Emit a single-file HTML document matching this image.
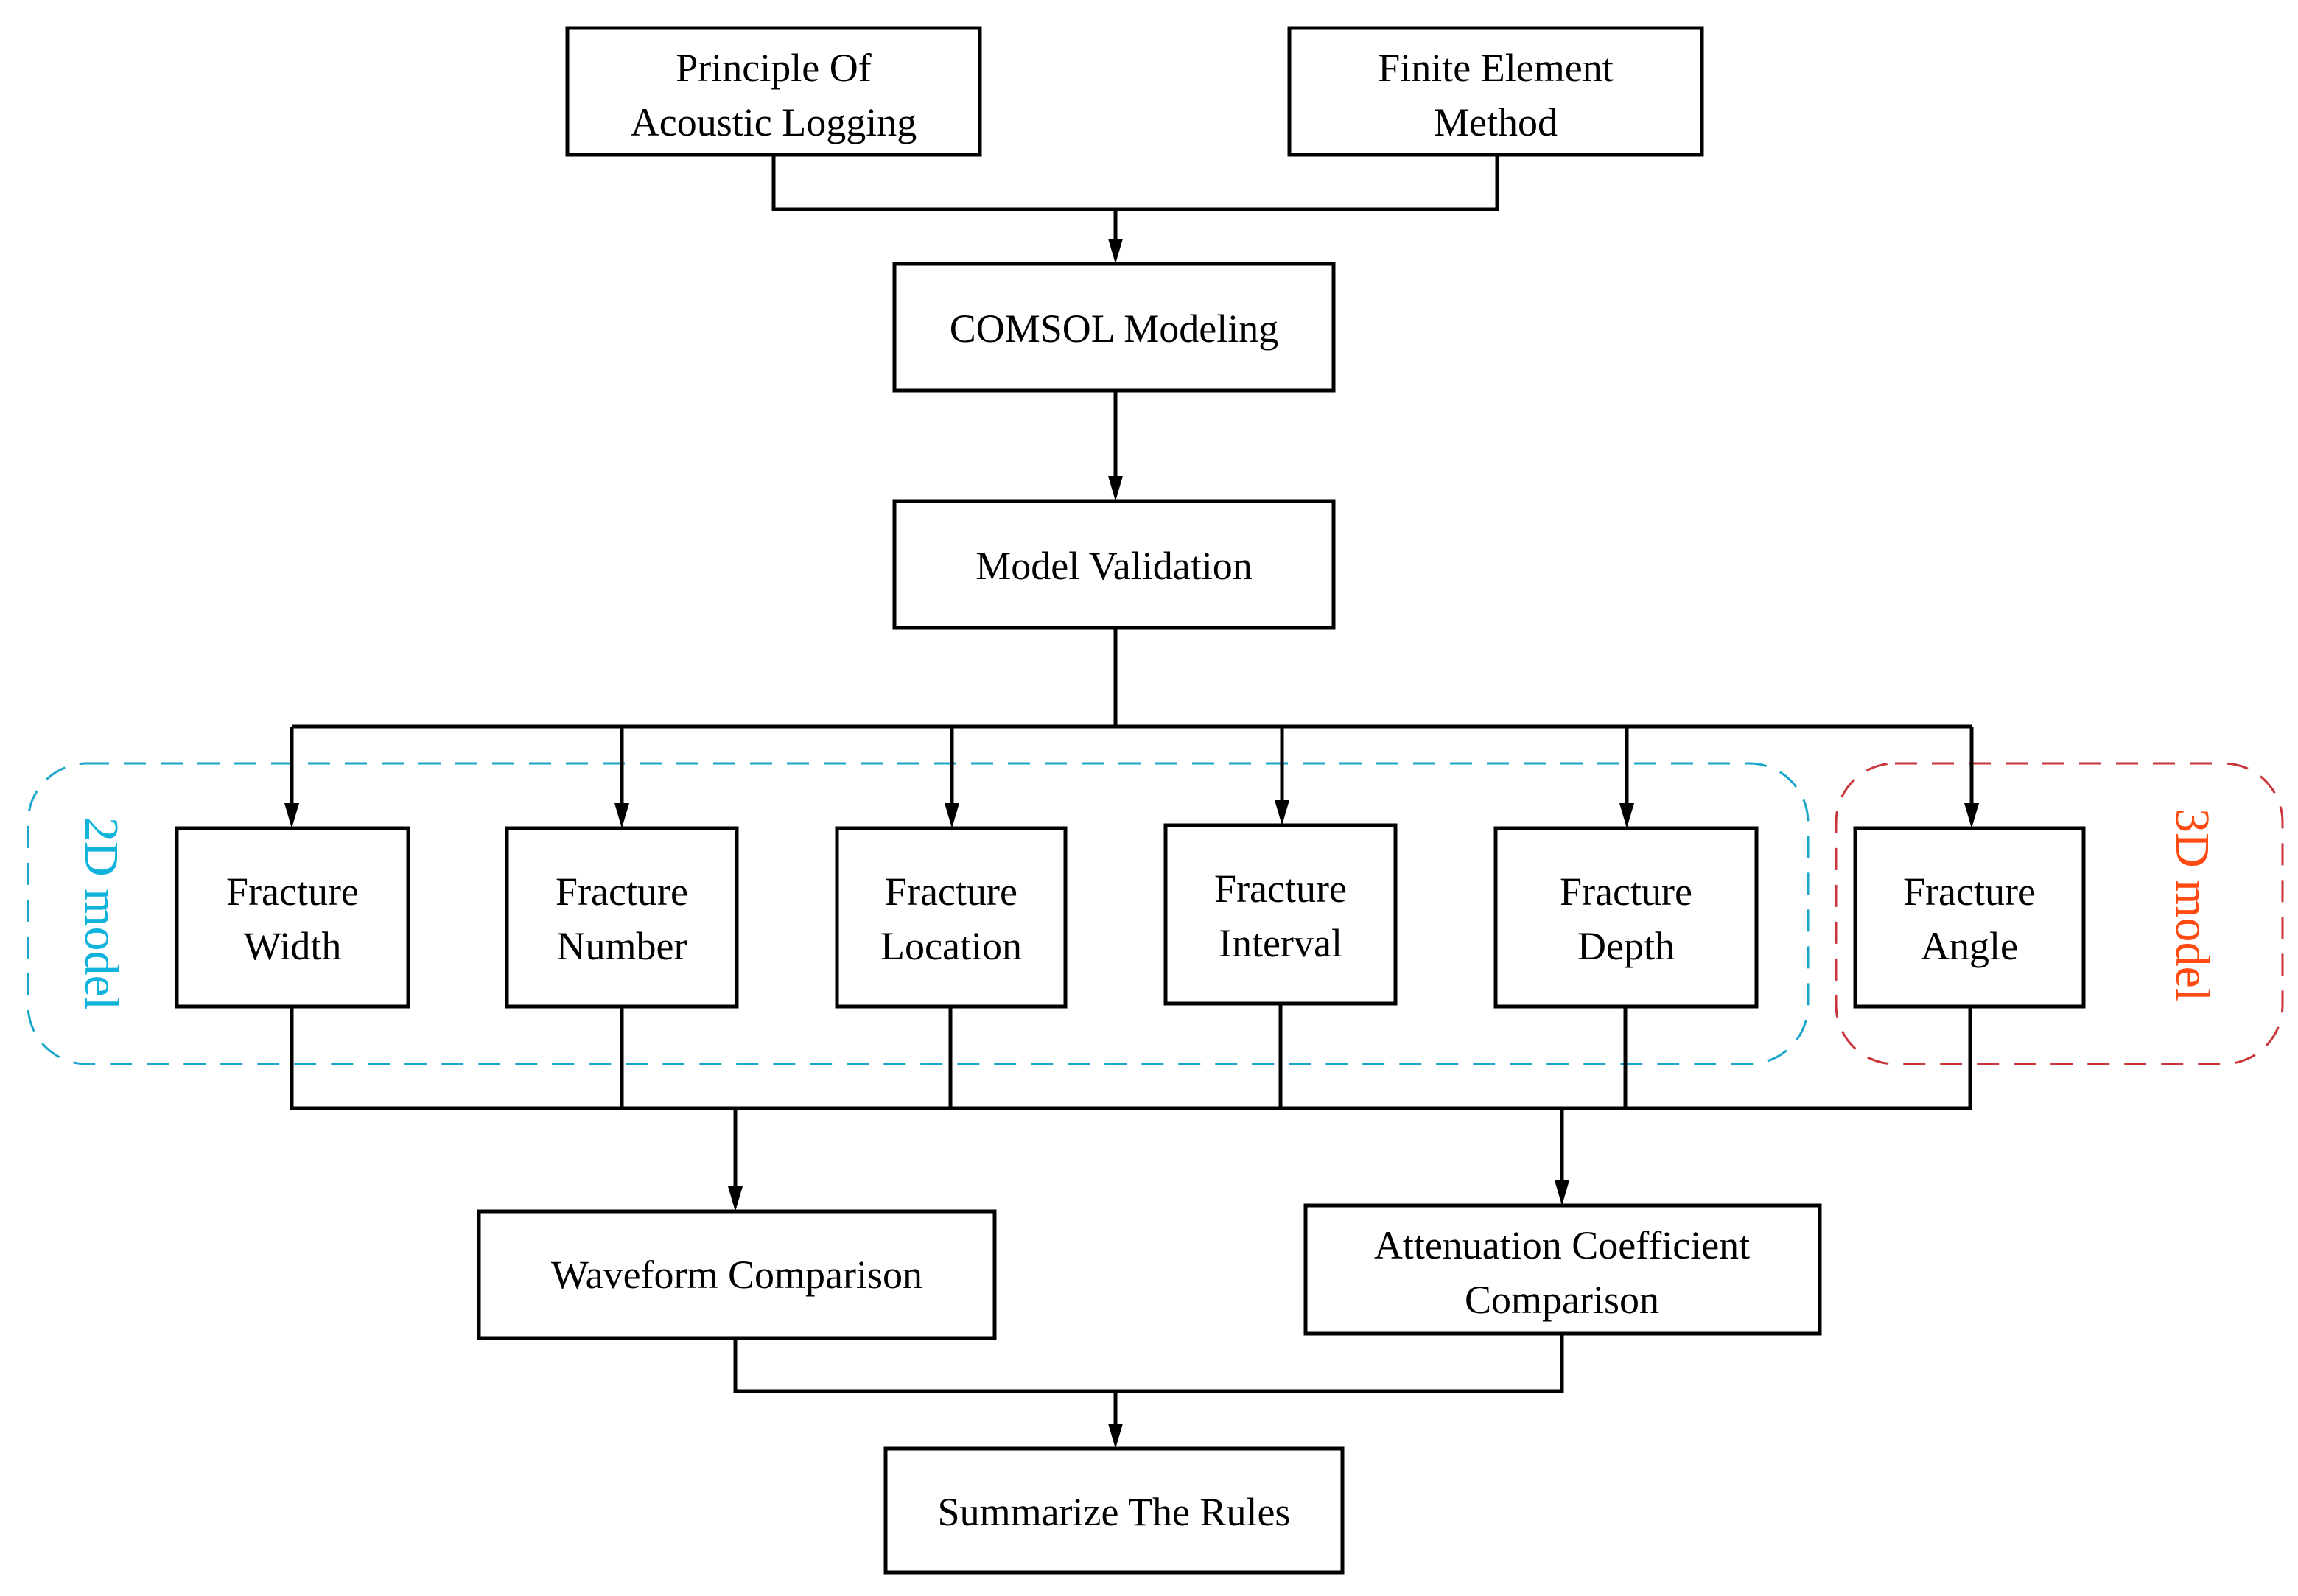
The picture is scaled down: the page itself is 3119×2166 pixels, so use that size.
<!DOCTYPE html>
<html><head><meta charset="utf-8"><style>
html,body{margin:0;padding:0;background:#fff;}
svg{display:block;}
text{font-family:"Liberation Serif",serif;font-size:54px;fill:#000;}
</style></head><body>
<svg width="3119" height="2166" viewBox="0 0 3119 2166" xmlns="http://www.w3.org/2000/svg">
<defs>
<marker id="a" markerWidth="10" markerHeight="14" refX="5" refY="14" orient="auto" markerUnits="userSpaceOnUse" viewBox="0 0 10 14">
</marker>
</defs>
<g fill="none" stroke-width="3">
<rect x="38" y="1036" width="2416" height="408" rx="80" stroke="#1aa6c8" stroke-dasharray="30,20"/>
<rect x="2492" y="1036" width="606" height="408" rx="80" stroke="#c8363a" stroke-dasharray="30,20"/>
</g>
<g fill="#fff" stroke="#000" stroke-width="5">
<rect x="770" y="38" width="560" height="172"/>
<rect x="1750" y="38" width="560" height="172"/>
<rect x="1214" y="358" width="596" height="172"/>
<rect x="1214" y="680" width="596" height="172"/>
<rect x="240" y="1124" width="314" height="242"/>
<rect x="688" y="1124" width="312" height="242"/>
<rect x="1136" y="1124" width="310" height="242"/>
<rect x="1582" y="1120" width="312" height="242"/>
<rect x="2030" y="1124" width="354" height="242"/>
<rect x="2518" y="1124" width="310" height="242"/>
<rect x="650" y="1644" width="700" height="172"/>
<rect x="1772" y="1636" width="698" height="174"/>
<rect x="1202" y="1966" width="620" height="168"/>
</g>
<g fill="none" stroke="#000" stroke-width="5">
<polyline points="1050,210 1050,284 2032,284 2032,210"/>
<line x1="1514" y1="284" x2="1514" y2="330"/>
<line x1="1514" y1="530" x2="1514" y2="652"/>
<line x1="1514" y1="852" x2="1514" y2="986"/>
<line x1="396" y1="986" x2="2676" y2="986"/>
<line x1="396" y1="986" x2="396" y2="1094"/>
<line x1="844" y1="986" x2="844" y2="1094"/>
<line x1="1292" y1="986" x2="1292" y2="1094"/>
<line x1="1740" y1="986" x2="1740" y2="1090"/>
<line x1="2208" y1="986" x2="2208" y2="1094"/>
<line x1="2676" y1="986" x2="2676" y2="1094"/>
<polyline points="396,1366 396,1504 2674,1504 2674,1366"/>
<line x1="844" y1="1366" x2="844" y2="1504"/>
<line x1="1290" y1="1366" x2="1290" y2="1504"/>
<line x1="1738" y1="1362" x2="1738" y2="1504"/>
<line x1="2206" y1="1366" x2="2206" y2="1504"/>
<line x1="998" y1="1504" x2="998" y2="1614"/>
<line x1="2120" y1="1504" x2="2120" y2="1606"/>
<polyline points="998,1816 998,1888 2120,1888 2120,1810"/>
<line x1="1514" y1="1888" x2="1514" y2="1936"/>
</g>
<g fill="#000">
<polygon points="1504,324 1524,324 1514,358"/>
<polygon points="1504,646 1524,646 1514,680"/>
<polygon points="386,1090 406,1090 396,1124"/>
<polygon points="834,1090 854,1090 844,1124"/>
<polygon points="1282,1090 1302,1090 1292,1124"/>
<polygon points="1730,1086 1750,1086 1740,1120"/>
<polygon points="2198,1090 2218,1090 2208,1124"/>
<polygon points="2666,1090 2686,1090 2676,1124"/>
<polygon points="988,1610 1008,1610 998,1644"/>
<polygon points="2110,1602 2130,1602 2120,1636"/>
<polygon points="1504,1932 1524,1932 1514,1966"/>
</g>
<g text-anchor="middle">
<text x="1050" y="110">Principle Of</text>
<text x="1050" y="184">Acoustic Logging</text>
<text x="2030" y="110">Finite Element</text>
<text x="2030" y="184">Method</text>
<text x="1512" y="464">COMSOL Modeling</text>
<text x="1512" y="786">Model Validation</text>
<text x="397" y="1228">Fracture</text>
<text x="397" y="1302">Width</text>
<text x="844" y="1228">Fracture</text>
<text x="844" y="1302">Number</text>
<text x="1291" y="1228">Fracture</text>
<text x="1291" y="1302">Location</text>
<text x="1738" y="1224">Fracture</text>
<text x="1738" y="1298">Interval</text>
<text x="2207" y="1228">Fracture</text>
<text x="2207" y="1302">Depth</text>
<text x="2673" y="1228">Fracture</text>
<text x="2673" y="1302">Angle</text>
<text x="1000" y="1748">Waveform Comparison</text>
<text x="2120" y="1708">Attenuation Coefficient</text>
<text x="2120" y="1782">Comparison</text>
<text x="1512" y="2070">Summarize The Rules</text>
</g>
<text x="0" y="0" text-anchor="middle" transform="translate(116,1240) rotate(90)" style="font-size:66px;fill:#0fb3dc;">2D model</text>
<text x="0" y="0" text-anchor="middle" transform="translate(2954,1228) rotate(90)" style="font-size:66px;fill:#ff4a12;">3D model</text>
</svg>
</body></html>
